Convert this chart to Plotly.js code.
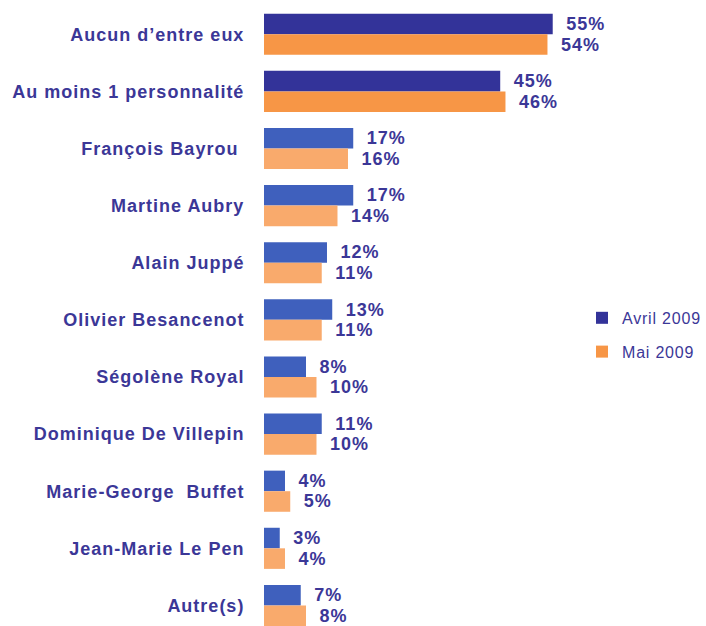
<!DOCTYPE html>
<html><head><meta charset="utf-8">
<script src="https://cdn.plot.ly/plotly-3.0.1.min.js"></script>
<style>body{margin:0;background:#fff}#c{width:706px;height:626px}
.ytick text{letter-spacing:1px}
.bartext{letter-spacing:1px}
.legendtext{letter-spacing:0.8px}
</style>
</head><body><div id="c"></div>
<script>
const categories = ["Aucun d’entre eux","Au moins 1 personnalité","François Bayrou ","Martine Aubry","Alain Juppé","Olivier Besancenot","Ségolène Royal","Dominique De Villepin","Marie-George  Buffet","Jean-Marie Le Pen","Autre(s)"];
const avril2009 = [55,45,17,17,12,13,8,11,4,3,7];
const mai2009 = [54,46,16,14,11,11,10,10,5,4,8];
const seriesNames = ["Avril 2009","Mai 2009"];

const txtColor = "#3b3797";
const blueCols = categories.map((c,i)=> i<2 ? "#333399" : "#3f60bd");
const orangeCols = categories.map((c,i)=> i<2 ? "#f79646" : "#f9aa6c");

const common = {type:"bar", orientation:"h", y:categories, textposition:"outside", cliponaxis:false,
  constraintext:"none", textfont:{family:"Liberation Sans, Arial, sans-serif", size:18, color:txtColor, weight:"bold"},
  hoverinfo:"skip"};
const data = [
  Object.assign({}, common, {name:seriesNames[0], legendgroup:"a", x:avril2009, texttemplate:"\u00a0\u2009%{x}%", marker:{color:blueCols}}),
  Object.assign({}, common, {name:seriesNames[1], legendgroup:"b", x:mai2009, texttemplate:"\u00a0\u2009%{x}%", marker:{color:orangeCols}})
];
const layout = {
  width:706, height:626, margin:{l:264, r:0, t:0, b:0},
  paper_bgcolor:"#fff", plot_bgcolor:"#fff",
  barmode:"group", bargap:0.28, bargroupgap:0,
  showlegend:true,
  legend:{x:1, y:0.465, xanchor:"right", yanchor:"middle", traceorder:"grouped", itemwidth:30,
    font:{family:"Liberation Sans, Arial, sans-serif", size:16, color:txtColor}, itemsizing:"constant", tracegroupgap:10},
  xaxis:{range:[0,84.2], visible:false, fixedrange:true},
  yaxis:{type:"category", range:[10.36,-0.6], showgrid:false, zeroline:false, showline:false, ticks:"outside", ticklen:15, tickcolor:"rgba(0,0,0,0)",
    tickfont:{family:"Liberation Sans, Arial, sans-serif", size:18, color:txtColor, weight:"bold"}}
};
Plotly.newPlot("c", data, layout, {displayModeBar:false, staticPlot:true});
</script></body></html>
